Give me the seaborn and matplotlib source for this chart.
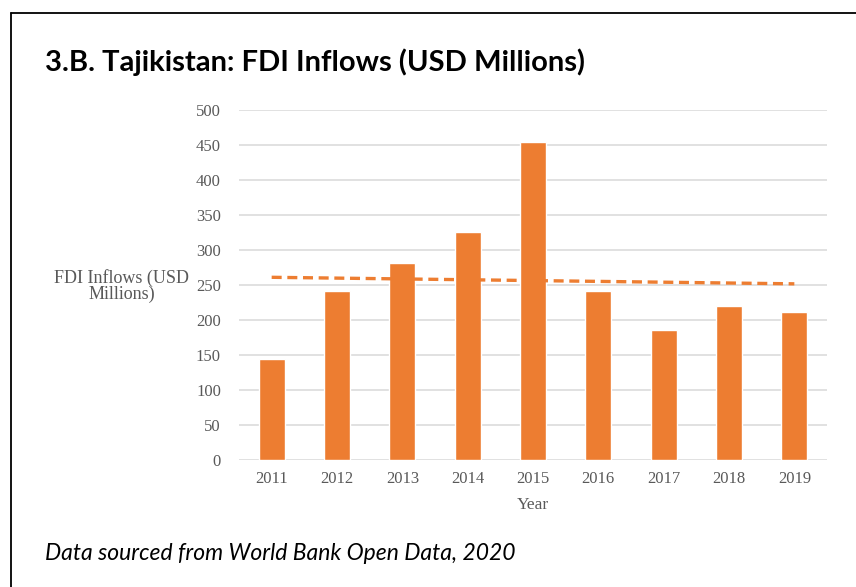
import numpy as np
import pandas as pd
import matplotlib
matplotlib.use("Agg")
import matplotlib.pyplot as plt
import seaborn as sns

# FDI inflows into Tajikistan, USD millions
years = ["2011", "2012", "2013", "2014", "2015", "2016", "2017", "2018", "2019"]
fdi_inflows = [145, 241, 282, 325, 454, 242, 186, 220, 212]
y_ticks = [0, 50, 100, 150, 200, 250, 300, 350, 400, 450, 500]

df = pd.DataFrame({"Year": years, "FDI": fdi_inflows})

sns.set_theme(style="white")
plt.rcParams["font.family"] = ["DejaVu Sans"]

ORANGE = "#ED7D31"
GRID = "#D9D9D9"
TEXT = "#595959"

fig = plt.figure(figsize=(8.56, 5.87), dpi=100)
fig.patch.set_facecolor("white")

ax = fig.add_axes([239 / 856, 1 - 460 / 587, 588 / 856, 350 / 587])

sns.barplot(data=df, x="Year", y="FDI", color=ORANGE, saturation=1,
            width=0.40, ax=ax, zorder=3)

# linear trend across the years
xs = np.arange(len(years))
slope, intercept = np.polyfit(xs, np.array(fdi_inflows, dtype=float), 1)
ax.plot(xs, slope * xs + intercept, color=ORANGE, lw=2.4,
        dashes=(3.0, 1.7), zorder=4)

ax.set_ylim(0, 500)
ax.set_xlim(-0.5, len(years) - 0.5)
ax.set_yticks(y_ticks)
ax.yaxis.grid(True, color=GRID, lw=1.1)
ax.set_axisbelow(True)
for s in ax.spines.values():
    s.set_visible(False)
ax.tick_params(axis="both", length=0, labelsize=12, labelcolor=TEXT)
ax.tick_params(axis="y", pad=13)
ax.tick_params(axis="x", pad=8)
for lab in ax.get_xticklabels() + ax.get_yticklabels():
    lab.set_fontfamily("Liberation Serif")

ax.set_xlabel("Year", fontfamily="Liberation Serif", fontsize=12.5,
              color=TEXT, labelpad=7)
ax.set_ylabel("")
fig.text(122 / 856, 1 - 286 / 587, "FDI Inflows (USD\nMillions)",
         ha="center", va="center", fontfamily="Liberation Serif",
         fontsize=13, color=TEXT, linespacing=0.95)

# panel title and source note
fig.text(45 / 856, 1 - 62 / 587, "3.B. Tajikistan: FDI Inflows (USD Millions)",
         ha="left", va="center", fontfamily="Lato", fontweight="bold",
         fontsize=21, color="black")
fig.text(45 / 856, 1 - 553 / 587, "Data sourced from World Bank Open Data, 2020",
         ha="left", va="center", fontfamily="Lato", fontstyle="italic",
         fontsize=16.5, color="black")

# frame lines at the top and left edge
fig.add_artist(plt.Line2D([11 / 856, 1.0], [1 - 13 / 587, 1 - 13 / 587],
                          transform=fig.transFigure, color="black", lw=1.3))
fig.add_artist(plt.Line2D([11 / 856, 11 / 856], [0.0, 1 - 13 / 587],
                          transform=fig.transFigure, color="black", lw=1.3))

fig.savefig("out.png", dpi=100, facecolor="white")
